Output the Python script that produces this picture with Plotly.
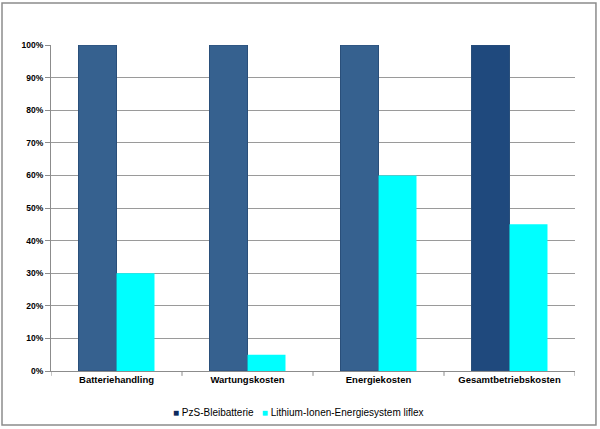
import plotly.graph_objects as go

categories = ["Batteriehandling", "Wartungskosten", "Energiekosten", "Gesamtbetriebskosten"]
series_names = ["PzS-Bleibatterie", "Lithium-Ionen-Energiesystem liflex"]
pzs_values = [100, 100, 100, 100]
li_values = [30, 5, 60, 45]
pzs_colors = ["#36618F", "#36618F", "#36618F", "#1F497D"]
legend_colors = ["#0D2A5E", "#00FFFF"]
y_ticks = [0, 10, 20, 30, 40, 50, 60, 70, 80, 90, 100]
y_labels = [f"{v}%" for v in y_ticks]

fig = go.Figure()
fig.add_trace(go.Bar(x=categories, y=pzs_values, name=series_names[0], showlegend=False,
                     marker=dict(color=pzs_colors, line=dict(color="#2A4F7A", width=1))))
fig.add_trace(go.Bar(x=categories, y=li_values, name=series_names[1],
                     showlegend=False, marker=dict(color="#00FFFF", line=dict(width=0))))

fig.update_layout(
    width=600, height=429,
    barmode="group", bargap=0.42, bargroupgap=0,
    plot_bgcolor="white", paper_bgcolor="white",
    margin=dict(l=51, r=25, t=45, b=58, autoexpand=False),
    font=dict(family="Liberation Sans, Arial", size=9, color="black"),
    showlegend=False,
)
fig.update_yaxes(range=[0, 100], tickvals=y_ticks, ticktext=[f"<b>{t}</b>" for t in y_labels],
                 showgrid=True, gridcolor="#9A9A9A", gridwidth=1,
                 showline=True, linecolor="#8C8C8C", ticks="outside", ticklen=5, tickcolor="#8C8C8C",
                 tickfont=dict(size=8.5, color="black"), zeroline=False)
fig.update_xaxes(tickvals=categories, ticktext=[f"<b>{c}</b>" for c in categories],
                 range=[-0.5, 3.5],
                 showline=True, linecolor="#8C8C8C", ticks="", tickfont=dict(size=9.5))
# category boundary tick marks
for i in range(len(categories) + 1):
    fig.add_shape(type="line", xref="x", yref="paper", x0=i - 0.5, x1=i - 0.5, y0=0, y1=-0.015,
                  line=dict(color="#8C8C8C", width=1))
fig.add_shape(type="rect", xref="paper", yref="paper", x0=-0.0935, x1=1.040, y0=-0.166, y1=1.129,
              line=dict(color="#8C8C8C", width=1.5), layer="below")

# compact legend as text
legend_text = "&nbsp;&nbsp;&nbsp;".join(
    f"<span style='color:{c}'>■</span>&nbsp;{n}" for n, c in zip(series_names, legend_colors))
fig.add_annotation(xref="paper", yref="paper", x=0.473, y=-0.126, xanchor="center", yanchor="middle",
                   text=legend_text, showarrow=False, font=dict(size=10, color="black"))

fig.write_html("out.html", config={"displayModeBar": False},
               post_script="document.body.style.margin='0';document.body.style.overflow='hidden';")
